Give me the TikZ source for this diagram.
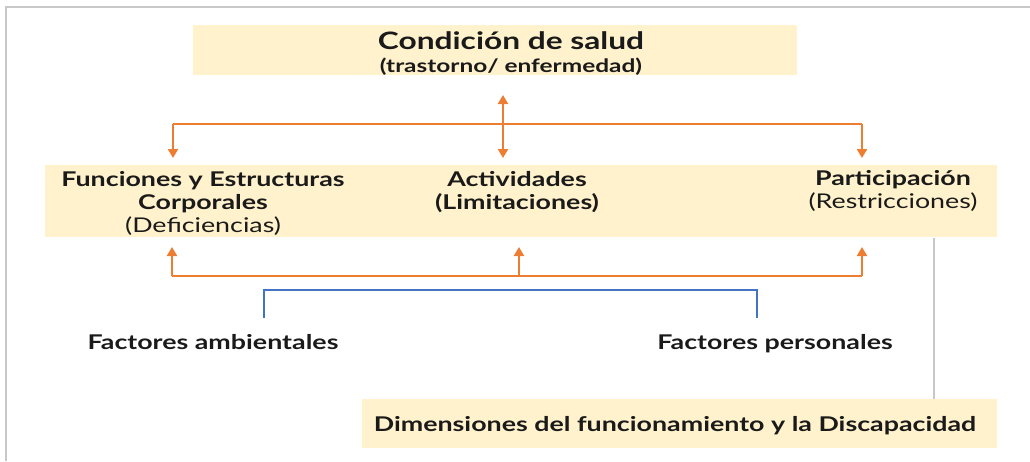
\documentclass[tikz,border=0pt]{standalone}
\usepackage{fontspec}
\setmainfont{Lato}[BoldFont={* Bold}, FakeStretch=1.32]
\usetikzlibrary{arrows.meta}
\definecolor{boxfill}{HTML}{FFF2CC}
\definecolor{orln}{HTML}{ED7D31}
\definecolor{blln}{HTML}{4472C4}
\definecolor{grln}{HTML}{C8C8C8}
\definecolor{txt}{HTML}{1A1A1A}
\tikzset{
  band/.style={fill=boxfill, draw=none, inner sep=0pt, anchor=north west},
  lbl/.style={text=txt, align=center, inner sep=0pt, font=\bfseries\fontsize{20.3}{23}\selectfont},
  orarrow/.style={draw=orln, line width=2.6pt, -{Triangle[width=10pt,length=9pt]}},
  orline/.style={draw=orln, line width=2.6pt},
  blline/.style={draw=blln, line width=2pt},
}
\begin{document}
\begin{tikzpicture}[x=1pt,y=-1pt]
\useasboundingbox (0,0) rectangle (1030,461);
\draw[grln, line width=1.5pt] (6,461) -- (6,7) -- (1030,7);
% boxes
\node[band, minimum width=604pt, minimum height=50pt] (top) at (193,25) {};
\node[band, minimum width=952pt, minimum height=72pt] (mid) at (45,165) {};
\node[band, minimum width=635pt, minimum height=49pt] (dim) at (362,399) {};
% texts
\node[lbl, anchor=base] (cond) at (511,49) {\fontsize{24}{26}\selectfont Condición de salud};
\node[lbl, anchor=base] (tras) at (511,72) {\fontsize{18.5}{20}\selectfont (trastorno/ enfermedad)};
\node[lbl, anchor=base] (fun) at (203,232) {Funciones y Estructuras\\Corporales\\{\mdseries (Deficiencias)}};
\node[lbl, anchor=base] (act) at (517,209) {Actividades\\(Limitaciones)};
\node[lbl, anchor=base] (par) at (893,208) {Participación\\{\mdseries (Restricciones)}};
\node[lbl, anchor=base] (amb) at (213,349) {Factores ambientales};
\node[lbl, anchor=base] (per) at (775,349) {Factores personales};
\node[lbl, anchor=base] (dimt) at (675,431) {Dimensiones del funcionamiento y la Discapacidad};
% coordinates
\coordinate (tl) at (173,124);
\coordinate (tr) at (862,124);
\coordinate (tlend) at (173,158);
\coordinate (trend) at (862,158);
\coordinate (mtop) at (503,95);
\coordinate (mbot) at (503,158);
\coordinate (bl) at (172,276);
\coordinate (br) at (862,276);
\coordinate (blend) at (172,247);
\coordinate (bmid) at (519,276);
\coordinate (bmidend) at (519,247);
\coordinate (brend) at (862,247);
\coordinate (gtop) at (934,238);
\coordinate (gbot) at (934,399);
% top connectors
\draw[orline] (tl) -- (tr);
\draw[orarrow] (tl) -- (tlend);
\draw[orarrow] (tr) -- (trend);
\draw[orarrow, {Triangle[width=10pt,length=9pt]}-{Triangle[width=10pt,length=9pt]}] (mtop) -- (mbot);
% bottom connectors
\draw[orline] (bl) -- (br);
\draw[orarrow] (bl) -- (blend);
\draw[orarrow] (bmid) -- (bmidend);
\draw[orarrow] (br) -- (brend);
% blue bracket
\draw[blline] (264,318) -- (264,290) -- (757,290) -- (757,318);
% gray connector
\draw[grln, line width=1.5pt] (gtop) -- (gbot);
\end{tikzpicture}
\end{document}
